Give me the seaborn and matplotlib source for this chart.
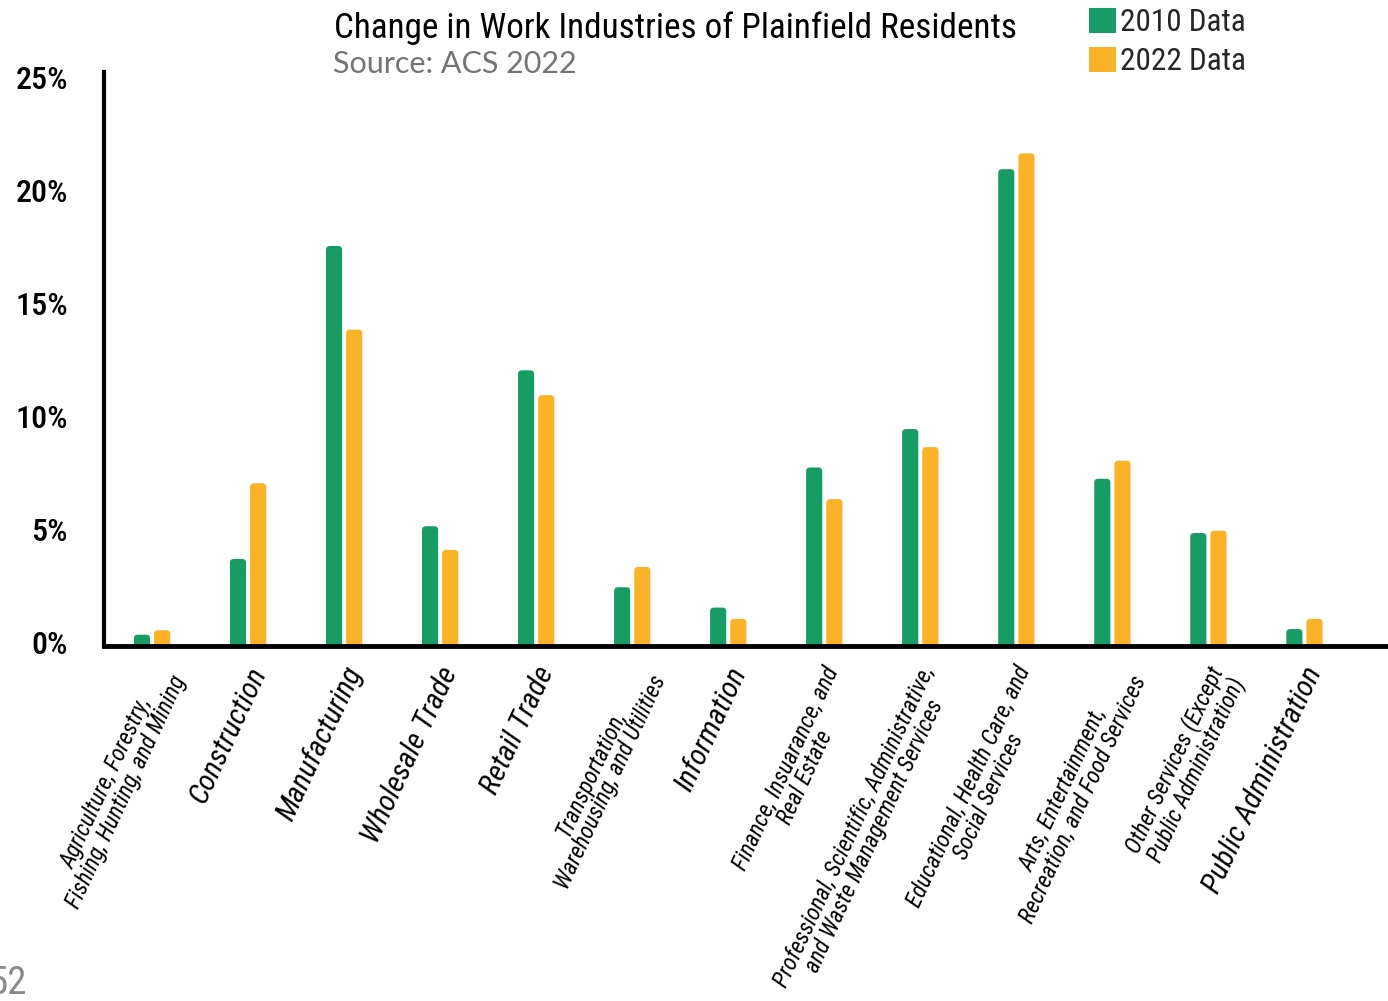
import numpy as np
import pandas as pd
import matplotlib
matplotlib.use("Agg")
import matplotlib.pyplot as plt
import matplotlib.transforms as mtransforms
import seaborn as sns
from matplotlib.patches import FancyBboxPatch, Patch
from matplotlib.font_manager import FontProperties, fontManager

# ---------------- data ----------------
categories = [
    "Agriculture, Forestry,\nFishing, Hunting, and Mining",
    "Construction",
    "Manufacturing",
    "Wholesale Trade",
    "Retail Trade",
    "Transportation,\nWarehousing, and Utilities",
    "Information",
    "Finance, Insuarance, and\nReal Estate",
    "Professional, Scientific, Administrative,\nand Waste Management Services",
    "Educational, Health Care, and\nSocial Services",
    "Arts, Entertainment,\nRecreation, and Food Services",
    "Other Services (Except\nPublic Administration)",
    "Public Administration",
]
values_2010 = [0.5, 3.85, 17.7, 5.3, 12.2, 2.6, 1.7, 7.9, 9.6, 21.1, 7.4, 5.0, 0.75]
values_2022 = [0.7, 7.2, 14.0, 4.25, 11.1, 3.5, 1.2, 6.5, 8.8, 21.8, 8.2, 5.1, 1.2]
series_names = ["2010 Data", "2022 Data"]
series_colors = ["#189c66", "#fbb227"]
y_ticks = [0, 5, 10, 15, 20, 25]
y_tick_labels = ["0%", "5%", "10%", "15%", "20%", "25%"]
title_text = "Change in Work Industries of Plainfield Residents"
subtitle_text = "Source: ACS 2022"
page_number = "52"

# ---------------- fonts ----------------
def pick_font(italic=False, weight=400):
    prefs = ["roboto condensed", "liberation sans narrow", "noto sans", "open sans",
             "dejavu sans", "lato", "inter", "roboto"]
    cands = []
    for f in fontManager.ttflist:
        nm = f.name.lower()
        st = str(f.stretch).lower()
        if "condensed" in nm or "narrow" in nm or st in ("condensed", "semi-condensed",
                                                          "extra-condensed", "ultra-condensed") \
                or (isinstance(f.stretch, (int, float)) and f.stretch < 500):
            cands.append(f)
    if not cands:
        return None
    def score(f):
        nm = f.name.lower()
        pr = len(prefs)
        for i, p in enumerate(prefs):
            if nm.startswith(p):
                pr = i
                break
        is_it = str(f.style).lower() in ("italic", "oblique")
        try:
            w = int(f.weight)
        except Exception:
            w = {"bold": 700, "normal": 400, "regular": 400, "medium": 500,
                 "light": 300, "semibold": 600}.get(str(f.weight).lower(), 400)
        ex = "extra" in nm or "ultra" in nm or "semi" in nm
        return (pr, is_it != italic, ex, abs(w - weight), w)
    cands.sort(key=score)
    return cands[0].fname

def fp(size, italic=False, weight=400, fallback_family="Liberation Sans"):
    fn = pick_font(italic, weight)
    if fn:
        return FontProperties(fname=fn, size=size)
    return FontProperties(family=fallback_family, size=size,
                          style="italic" if italic else "normal",
                          weight="bold" if weight >= 600 else "normal")

# ---------------- data frame ----------------
df = pd.DataFrame({
    "Industry": categories * 2,
    "Series": [series_names[0]] * len(categories) + [series_names[1]] * len(categories),
    "Value": values_2010 + values_2022,
})

sns.set_theme(style="white")
plt.rcParams["font.family"] = ["DejaVu Sans"]

W, H = 1388, 1001
fig = plt.figure(figsize=(W / 100, H / 100), dpi=100)
fig.patch.set_facecolor("white")
ax = fig.add_axes([104 / W, 1 - 646 / H, 1284 / W, (646 - 72) / H])

sns.barplot(data=df, x="Industry", y="Value", hue="Series",
            palette=dict(zip(series_names, series_colors)),
            width=0.42, gap=0.2, saturation=1, errorbar=None,
            legend=False, ax=ax)

ax.set_ylim(0, 25.4)
ax.set_xlim(-0.5, 12.87)

# rounded bar tops
rx = 0.04
ry = 0.17
for p in list(ax.patches):
    x, y, w, h = p.get_x(), p.get_y(), p.get_width(), p.get_height()
    fc = p.get_facecolor()
    p.remove()
    fb = FancyBboxPatch((x, -0.5), w, h + 0.5,
                        boxstyle=f"round,pad=0,rounding_size={rx}",
                        mutation_aspect=ry / rx, facecolor=fc,
                        edgecolor="none", zorder=2)
    ax.add_patch(fb)

# spines
for s in ["top", "right"]:
    ax.spines[s].set_visible(False)
ax.spines["left"].set_linewidth(3)
ax.spines["left"].set_color("black")
ax.spines["bottom"].set_linewidth(3.5)
ax.spines["bottom"].set_color("black")
ax.set_xlabel("")
ax.set_ylabel("")
ax.grid(False)

# y ticks
ax.set_yticks(y_ticks)
ax.set_yticklabels(y_tick_labels)
ax.tick_params(axis="y", length=0, pad=26)
fy = fp(23, italic=False, weight=500)
yoff = mtransforms.ScaledTranslation(0, 4 / 100, fig.dpi_scale_trans)
for t in ax.get_yticklabels():
    t.set_fontproperties(fy)
    t.set_color("black")
    t.set_transform(t.get_transform() + yoff)

# x ticks
ax.set_xticks(range(len(categories)))
ax.set_xticklabels(categories)
ax.tick_params(axis="x", length=0, pad=12)
f_single = fp(21.5, italic=True, weight=400)
f_multi = fp(16.8, italic=True, weight=400)
offset = mtransforms.ScaledTranslation(-2 / 100, 0, fig.dpi_scale_trans)
for t, c in zip(ax.get_xticklabels(), categories):
    t.set_fontproperties(f_multi if "\n" in c else f_single)
    t.set_rotation(65)
    t.set_rotation_mode("anchor")
    t.set_ha("right")
    t.set_va("top")
    t.set_multialignment("center")
    t.set_linespacing(0.95)
    t.set_color("black")
    t.set_transform(t.get_transform() + offset)

# title / subtitle
fig.text(676 / W, 1 - 28 / H, title_text, ha="center", va="center",
         fontproperties=fp(25.3, weight=400), color="black")
fig.text(333 / W, 1 - 64 / H, subtitle_text, ha="left", va="center",
         fontproperties=FontProperties(family="Lato", size=22, weight="normal"),
         color="#747474")

# legend
handles = [Patch(facecolor=c, edgecolor="none") for c in series_colors]
leg = fig.legend(handles, series_names, loc="upper left",
                 bbox_to_anchor=(1089 / W, 1 - 8 / H),
                 frameon=False, prop=fp(22.5, weight=400),
                 handlelength=0.85, handleheight=0.85, handletextpad=0.15,
                 labelspacing=0.3, borderaxespad=0, borderpad=0)

# page number
fig.text(27 / W, 1 - 983 / H, page_number, ha="right", va="center",
         fontproperties=fp(28, weight=400), color="#8a8a8a")

fig.savefig("out.png", dpi=100, facecolor="white")
